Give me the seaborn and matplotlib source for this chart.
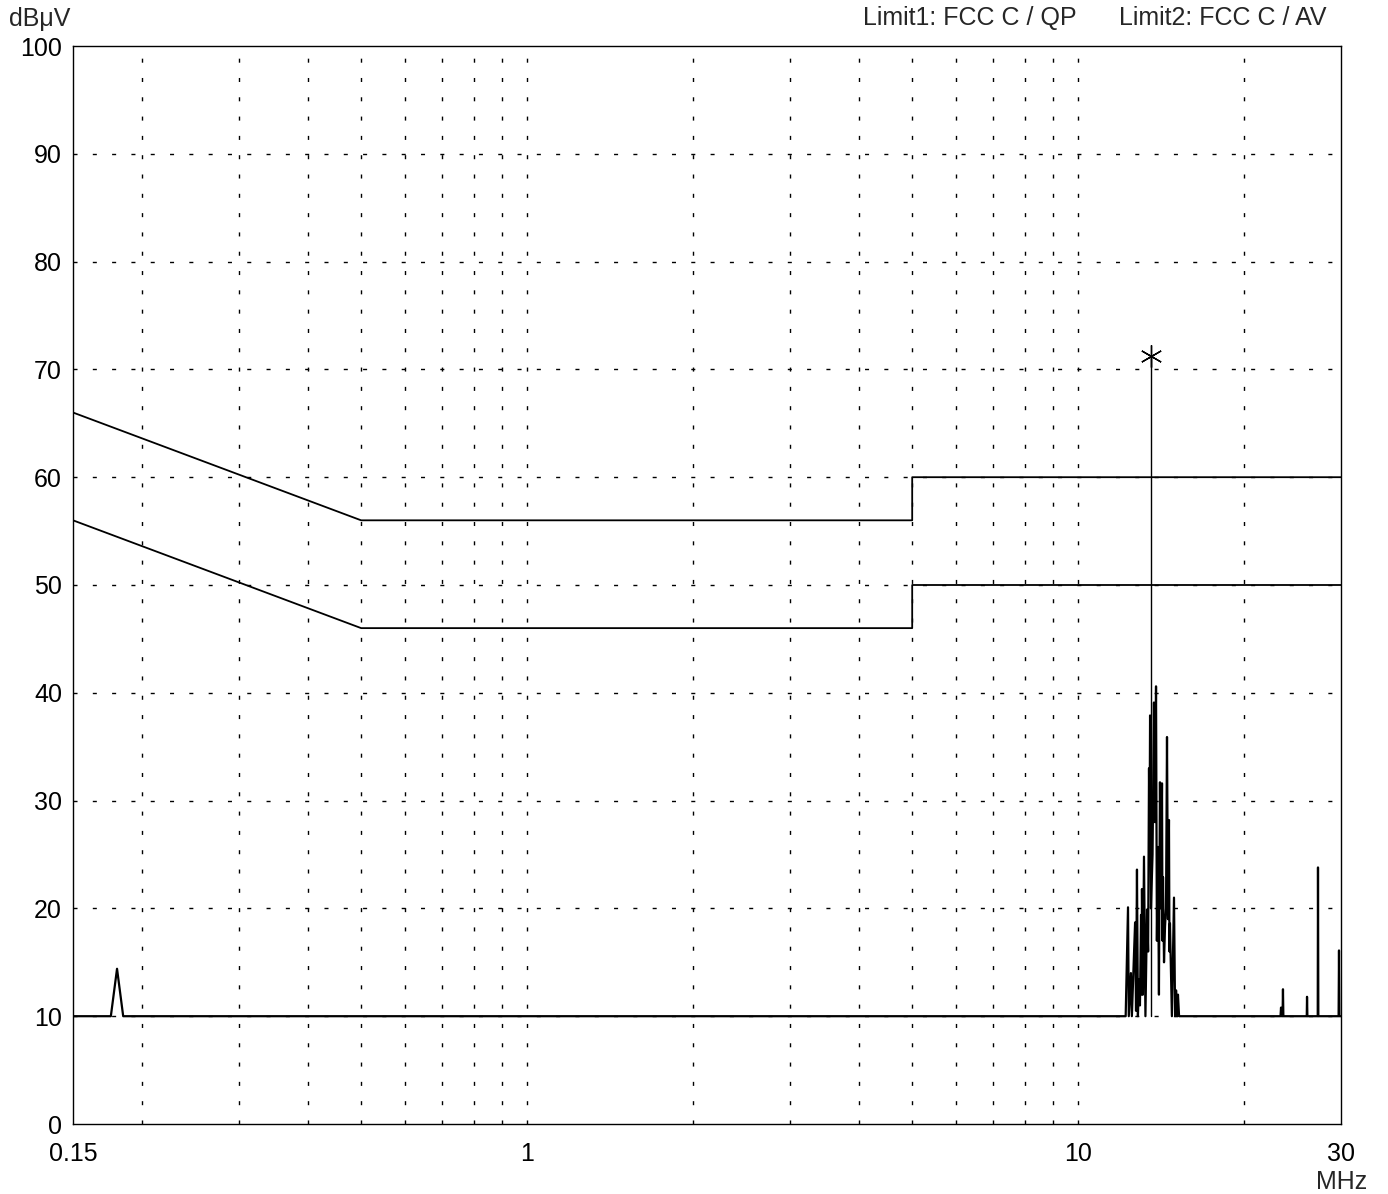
import numpy as np
import pandas as pd
import matplotlib
matplotlib.use("Agg")
import matplotlib.pyplot as plt
import seaborn as sns

# limit lines (MHz, dBuV)
qp_freq = [0.15, 0.5, 0.5, 5.0, 5.0, 30.0]
qp_level = [66, 56, 56, 56, 60, 60]
av_freq = [0.15, 0.5, 0.5, 5.0, 5.0, 30.0]
av_level = [56, 46, 46, 46, 50, 50]

# measured trace
trace_freq = [0.15, 0.1757, 0.1803, 0.185,
              12.20, 12.32, 12.36, 12.47, 12.52, 12.69, 12.74, 12.79, 12.84, 12.90,
              12.95, 13.01, 13.04, 13.06, 13.11, 13.17, 13.25, 13.34, 13.40, 13.45,
              13.48, 13.51, 13.56, 13.65, 13.73, 13.79, 13.85, 13.90, 13.96, 14.02,
              14.08, 14.14, 14.20, 14.23, 14.26, 14.32, 14.38, 14.44, 14.50, 14.56,
              14.62, 14.65, 14.68, 14.80, 14.93, 15.00, 15.06, 15.12, 15.18, 15.25,
              23.30, 23.35, 23.40, 23.50, 23.54, 23.58, 26.00, 26.03, 26.07,
              27.22, 27.25, 27.29, 29.70, 29.75, 29.80, 30.0]
trace_level = [10, 10, 14.4, 10,
               10, 20.1, 10, 14.0, 10, 18.7, 10.5, 23.6, 10, 13.4,
               11, 19.4, 12, 21.8, 12, 24.8, 10, 19.9, 16, 33.0,
               26, 37.9, 20, 25, 39.1, 28, 40.6, 17, 25.7, 12,
               31.7, 20, 31.6, 17, 22.9, 15, 18.3, 20, 35.9, 19,
               28.2, 16, 18.6, 10, 21.0, 10, 12.4, 10, 12.0, 10,
               10, 10.8, 10, 10, 12.5, 10, 10, 11.8, 10,
               10, 23.8, 10, 10, 16.1, 10, 10]

# final measurement marker
marker_freq = 13.56
marker_level = 71.2

x_ticks = [0.15, 1, 10, 30]
x_ticklabels = ["0.15", "1", "10", "30"]
y_ticks = list(range(0, 101, 10))

sns.set_style("white")
plt.rcParams['font.family'] = ['Liberation Sans', 'DejaVu Sans']

fig = plt.figure(figsize=(13.88, 11.94), dpi=100)
ax = fig.add_axes([73 / 1388, 1 - 1124 / 1194, 1268 / 1388, 1078 / 1194])

qp = pd.DataFrame({"f": qp_freq, "v": qp_level})
av = pd.DataFrame({"f": av_freq, "v": av_level})
tr = pd.DataFrame({"f": trace_freq, "v": trace_level})

ax.set_xscale("log")
sns.lineplot(data=qp, x="f", y="v", ax=ax, color="black", lw=1.3, sort=False, estimator=None)
sns.lineplot(data=av, x="f", y="v", ax=ax, color="black", lw=1.3, sort=False, estimator=None)
sns.lineplot(data=tr, x="f", y="v", ax=ax, color="black", lw=1.6, sort=False, estimator=None)
ax.plot([marker_freq, marker_freq], [10, marker_level], color="black", lw=1.0)
ax.plot([marker_freq], [marker_level], marker=(6, 2, 0), ms=16, mew=1.0, color="black")

ax.set_xlim(0.15, 30)
ax.set_ylim(0, 100)

# dotted grid
grid_f = [0.2, 0.3, 0.4, 0.5, 0.6, 0.7, 0.8, 0.9, 1, 2, 3, 4, 5, 6, 7, 8, 9, 10, 20]
for f in grid_f:
    ax.axvline(f, color="black", lw=1.0, linestyle=(0, (2.9, 11.0)), zorder=0)
for y in y_ticks[1:-1]:
    ax.axhline(y, color="black", lw=1.0, linestyle=(0, (2.9, 11.0)), zorder=0)

ax.set_xticks(x_ticks)
ax.set_xticklabels(x_ticklabels)
ax.xaxis.set_minor_locator(matplotlib.ticker.NullLocator())
ax.set_yticks(y_ticks)
ax.tick_params(axis="both", length=0, labelsize=18, colors="black")
ax.tick_params(axis="y", pad=8)
ax.tick_params(axis="x", pad=13)
ax.set_xlabel("")
ax.set_ylabel("")
for s in ax.spines.values():
    s.set_color("black")
    s.set_linewidth(1.0)

fig.text(40 / 1388, 1 - 19 / 1194, "dBμV", fontsize=18, ha="center", va="center")
fig.text(1342 / 1388, 1 - 1182 / 1194, "MHz", fontsize=18, ha="center", va="center")
fig.text(970 / 1388, 1 - 18 / 1194, "Limit1: FCC C / QP", fontsize=18, ha="center", va="center")
fig.text(1223 / 1388, 1 - 18 / 1194, "Limit2: FCC C / AV", fontsize=18, ha="center", va="center")

fig.savefig("out.png", dpi=100, facecolor="white")
